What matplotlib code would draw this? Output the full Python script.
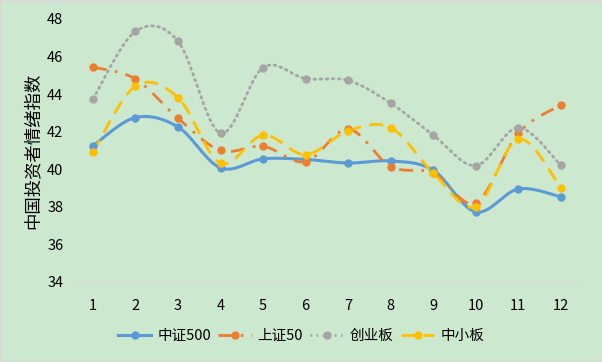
import numpy as np
import matplotlib
matplotlib.use("Agg")
from matplotlib import pyplot as plt
from matplotlib.lines import Line2D

plt.rcParams['font.family'] = ['Noto Sans CJK SC', 'DejaVu Sans']

months = [1, 2, 3, 4, 5, 6, 7, 8, 9, 10, 11, 12]
zz500 = [41.24, 42.75, 42.25, 40.07, 40.55, 40.52, 40.33, 40.44, 39.95, 37.73, 38.95, 38.53]
sz50 = [45.43, 44.80, 42.71, 41.00, 41.22, 40.40, 42.13, 40.14, 39.80, 38.22, 41.92, 43.41]
cyb = [43.73, 47.33, 46.81, 41.92, 45.41, 44.82, 44.72, 43.51, 41.81, 40.19, 42.21, 40.21]
zxb = [40.90, 44.42, 43.81, 40.32, 41.81, 40.78, 42.04, 42.21, 39.80, 38.01, 41.61, 39.02]
names = ['中证500', '上证50', '创业板', '中小板']
yticks = [34, 36, 38, 40, 42, 44, 46, 48]


def smooth(x, y, n=20):
    # Catmull-Rom like Excel's smoothed line
    x = np.asarray(x, float)
    y = np.asarray(y, float)
    px = np.concatenate([[x[0]], x, [x[-1]]])
    py = np.concatenate([[y[0]], y, [y[-1]]])
    xs, ys = [], []
    t = np.linspace(0, 1, n, endpoint=False)
    for i in range(1, len(px) - 2):
        p0, p1, p2, p3 = [np.array([px[j], py[j]]) for j in range(i - 1, i + 3)]
        c1 = p1 + (p2 - p0) / 6
        c2 = p2 - (p3 - p1) / 6
        b = ((1 - t) ** 3)[:, None] * p1 + (3 * (1 - t) ** 2 * t)[:, None] * c1 \
            + (3 * (1 - t) * t ** 2)[:, None] * c2 + (t ** 3)[:, None] * p2
        xs.extend(b[:, 0])
        ys.extend(b[:, 1])
    xs.append(x[-1])
    ys.append(y[-1])
    return np.array(xs), np.array(ys)


bg = '#cce8cf'
fig = plt.figure(figsize=(6.02, 3.62), dpi=100, facecolor=bg, edgecolor='#d9d9d9', linewidth=1)
ax = fig.add_axes([0.119, 0.221, 0.848, 0.727])
ax.set_facecolor(bg)

styles = [
    dict(color='#5B9BD5', lw=2.2, ls='-'),
    dict(color='#ED7D31', lw=2.0, ls=(0, (5, 3, 1, 3))),
    dict(color='#A5A5A5', lw=2.0, ls=(0, (0.6, 1.6))),
    dict(color='#FFC000', lw=2.0, ls=(0, (5, 3))),
]
series = [zz500, sz50, cyb, zxb]

for vals, st in zip(series, styles):
    sx, sy = smooth(months, vals)
    ax.plot(sx, sy, color=st['color'], lw=st['lw'], ls=st['ls'],
            dash_capstyle='round' if st['color'] == '#A5A5A5' else 'butt',
            zorder=2)
    ax.plot(months, vals, 'o', color=st['color'], ms=5, zorder=3)

ax.set_xlim(0.5, 12.5)
ax.set_ylim(34, 48)
ax.set_xticks(months)
ax.set_yticks(yticks)
for s in ['top', 'right', 'left']:
    ax.spines[s].set_visible(False)
ax.spines['bottom'].set_color('#d9d9d9')
ax.spines['bottom'].set_linewidth(1)
ax.tick_params(length=0, labelsize=10.5, colors='black')
ax.tick_params(axis='y', pad=6)
ax.tick_params(axis='x', pad=12)
ax.set_ylabel('中国投资者情绪指数', fontsize=12.5, labelpad=4)

handles = [Line2D([0], [0], color=st['color'], lw=st['lw'], ls=st['ls'],
                  marker='o', ms=5) for st in styles]
fig.legend(handles, names, loc='center', bbox_to_anchor=(0.5, 0.072), ncol=4,
           frameon=False, fontsize=10.5, handlelength=2.3, columnspacing=0.5,
           handletextpad=0.4)

fig.savefig('out.png', dpi=100, facecolor=bg, edgecolor='#d9d9d9')
